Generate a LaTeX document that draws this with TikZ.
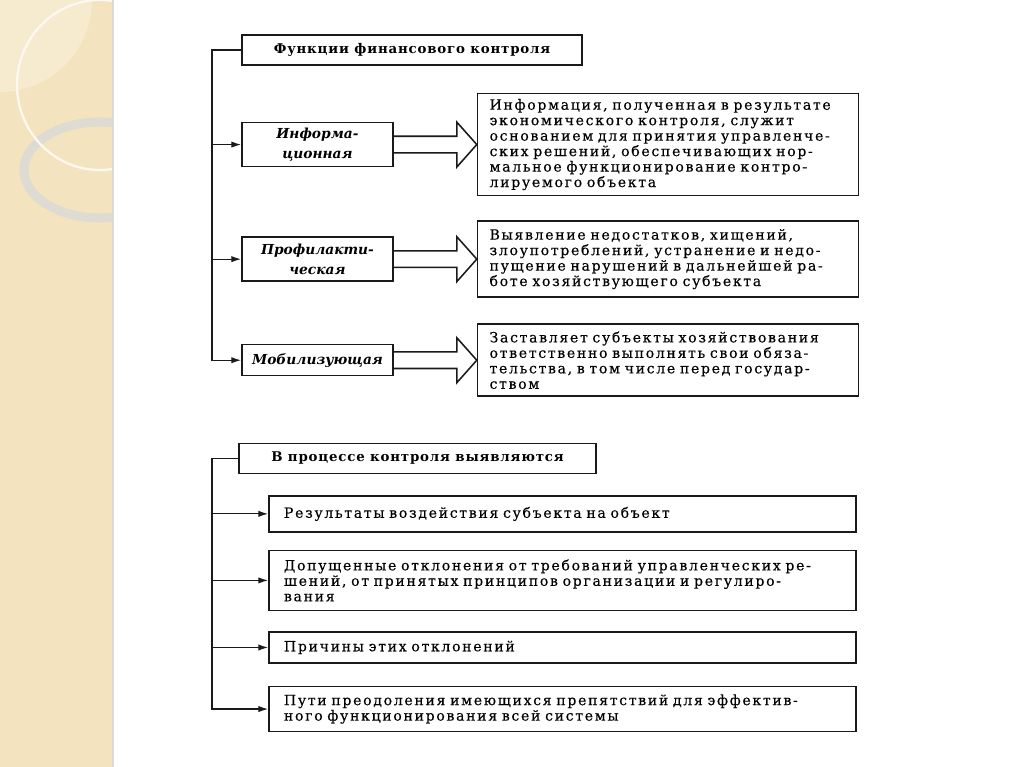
\documentclass[tikz,border=0pt]{standalone}
\usepackage{fontspec}
\setmainfont{DejaVu Serif}[LetterSpace=6]
\newfontfamily\bodyface{DejaVu Serif}[LetterSpace=12,FakeBold=0.3]
\newfontfamily\funcface{DejaVu Serif}[LetterSpace=0]
\usetikzlibrary{arrows.meta,positioning}
\definecolor{Sand}{HTML}{F3E3BF}
\definecolor{Ring}{HTML}{DEDBD2}
\definecolor{Ink}{HTML}{1A1A1A}
\newcommand\bodyfont{\bodyface\fontsize{10}{11}\selectfont}
\newcommand\headfont{\fontsize{9.5}{11}\selectfont\bfseries}
\newcommand\funcfont{\funcface\fontsize{9.8}{14}\selectfont\bfseries\itshape}

\begin{document}
\begin{tikzpicture}[
  x=0.025cm,y=-0.025cm,
  node distance=1.4cm and 2.075cm,
  headbox/.style={draw=Ink,line width=1.1pt,inner sep=0pt,minimum height=0.75cm,align=center,font=\headfont},
  funcbox/.style={draw=Ink,line width=1.1pt,inner sep=0pt,minimum width=3.775cm,align=center,font=\funcfont},
  descbox/.style={draw=Ink,line width=1.1pt,inner xsep=0.3cm,inner ysep=2pt,text width=8.925cm,align=left,font=\bodyfont},
  resbox/.style={draw=Ink,line width=1.1pt,inner xsep=0.375cm,inner ysep=2pt,text width=13.925cm,align=left,font=\bodyfont},
  conn/.style={draw=Ink,line width=0.9pt},
  arrow/.style={conn,-{Latex[length=7pt,width=4.5pt]}},
  fat/.style={draw=Ink,line width=1.1pt,line join=miter}
]
\useasboundingbox (0,0) rectangle (1024,767);
\fill[white] (0,0) rectangle (1024,767);
% slide strip
\begin{scope}
  \clip (0,0) rectangle (112,767);
  \fill[Sand] (0,0) rectangle (112,767);
  \fill[white,opacity=0.25] (0,0) circle [radius=92];
  \draw[Ring,line width=6.4pt] (100,170) ellipse [x radius=76, y radius=48];
  \draw[white!80!Sand,line width=1.6pt] (100,85) ellipse [x radius=83, y radius=85];
\end{scope}
\draw[black!15,line width=1.5pt] (113,0) -- (113,767);

% functions
\node[headbox,minimum width=8.5cm] (fin) at (412,50) {Функции финансового контроля};
\node[funcbox,minimum height=1.1cm,below right=1.4cm and 0cm of fin.south west] (inf) {Информа-\\ционная};
\node[funcbox,minimum height=1.1cm,below=1.725cm of inf] (prof) {Профилакти-\\ческая};
\node[funcbox,minimum height=0.775cm,below=1.55cm of prof] (mob) {Мобилизующая};
\node[descbox,minimum height=2.55cm,right=of inf] (dinf) {Информация, полученная в результате\\экономического контроля, служит\\основанием для принятия управленче-\\ских решений, обеспечивающих нор-\\мальное функционирование контро-\\лируемого объекта};
\node[descbox,minimum height=1.9cm,right=of prof] (dprof) {Выявление недостатков, хищений,\\злоупотреблений, устранение и недо-\\пущение нарушений в дальнейшей ра-\\боте хозяйствующего субъекта};
\node[descbox,minimum height=1.8cm,right=of mob] (dmob) {Заставляет субъекты хозяйствования\\ответственно выполнять свои обяза-\\тельства, в том числе перед государ-\\ством};

\coordinate (trunk) at (212,0);
\draw[arrow] (fin.west) -- (trunk |- fin.west) |- (mob.west);
\draw[arrow] (trunk |- inf.west) -- (inf.west);
\draw[arrow] (trunk |- prof.west) -- (prof.west);

\foreach \f/\d in {inf/dinf,prof/dprof,mob/dmob}
  \draw[fat] ([yshift=5.9pt]\f.east) -- ++(63,0) -- ++(0,-14.2) -- (\d.west |- \f.east)
    -- ++(-20,22.5) -- ++(0,-14.2) -- ([yshift=-5.9pt]\f.east);

% found in control
\node[headbox,minimum width=8.925cm,below right=1.65cm and -0.075cm of mob.south west] (proc) {В процессе контроля выявляются};
\node[resbox,minimum height=0.9cm,below right=0.525cm and 0.75cm of proc.south west] (res) {Результаты воздействия субъекта на объект};
\node[resbox,minimum height=1.5cm,below=0.425cm of res] (dev) {Допущенные отклонения от требований управленческих ре-\\шений, от принятых принципов организации и регулиро-\\вания};
\node[resbox,minimum height=0.775cm,below=0.5cm of dev] (cause) {Причины этих отклонений};
\node[resbox,minimum height=1.125cm,below=0.55cm of cause] (way) {Пути преодоления имеющихся препятствий для эффектив-\\ного функционирования всей системы};

\draw[arrow] (proc.west) -- (trunk |- proc.west) |- (way.west);
\foreach \b in {res,dev,cause}
  \draw[arrow] (trunk |- \b.west) -- (\b.west);
\end{tikzpicture}
\end{document}
